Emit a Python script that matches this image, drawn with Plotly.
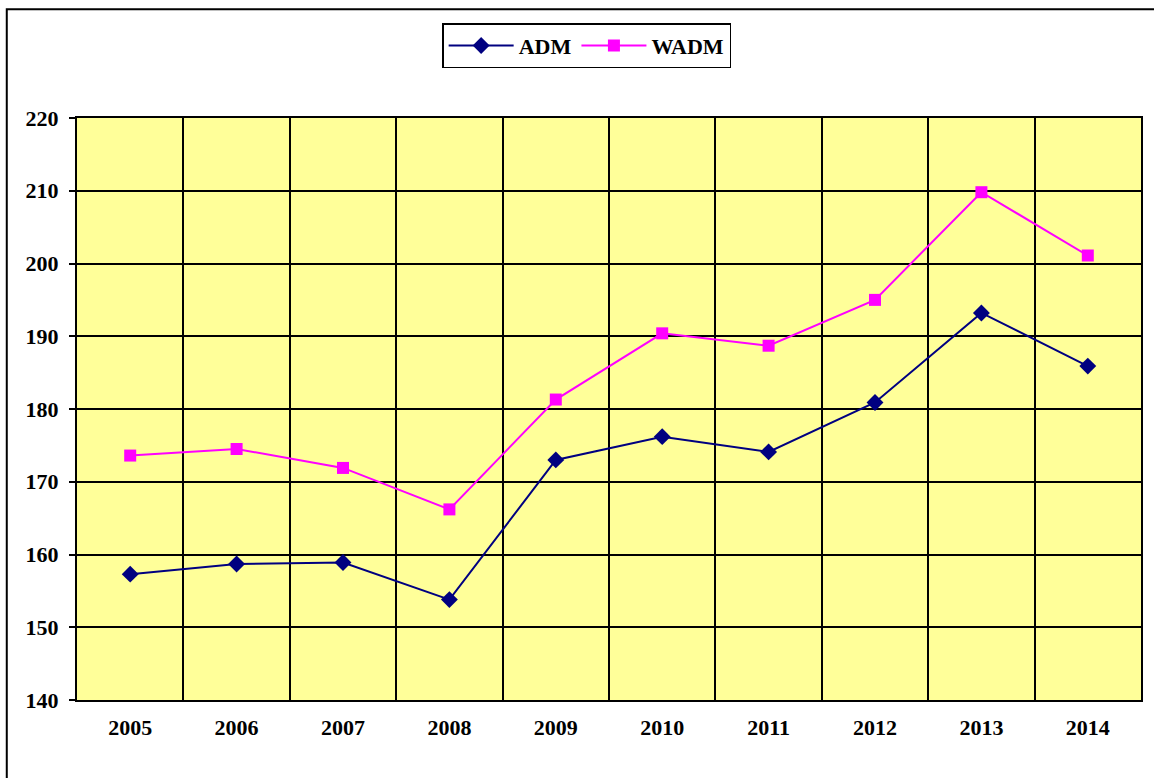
import plotly.graph_objects as go

years = ["2005", "2006", "2007", "2008", "2009", "2010", "2011", "2012", "2013", "2014"]
adm = [157.3, 158.7, 158.9, 153.8, 173.0, 176.2, 174.1, 180.9, 193.2, 185.9]
wadm = [173.6, 174.5, 171.9, 166.2, 181.3, 190.4, 188.7, 195.0, 209.8, 201.1]
y_ticks = [140, 150, 160, 170, 180, 190, 200, 210, 220]

FONT = "Liberation Serif"

fig = go.Figure()
fig.add_trace(go.Scatter(
    x=years, y=adm, name="ADM", mode="lines+markers",
    line=dict(color="#000080", width=2),
    marker=dict(symbol="diamond", size=13, color="#000080"),
))
fig.add_trace(go.Scatter(
    x=years, y=wadm, name="WADM", mode="lines+markers",
    line=dict(color="#FF00FF", width=2),
    marker=dict(symbol="square", size=12, color="#FF00FF"),
))

fig.update_layout(
    width=1154, height=778,
    margin=dict(l=77, r=11, t=118, b=78),
    paper_bgcolor="white",
    plot_bgcolor="#FFFF99",
    showlegend=True,
    legend=dict(
        orientation="h", x=0.479, xanchor="center", y=1.163, yanchor="top",
        bordercolor="black", borderwidth=1.5, bgcolor="white",
        font=dict(family=FONT, size=22, color="black", weight="bold"),
        itemwidth=65,
    ),
    xaxis=dict(
        type="category", tickson="boundaries", showgrid=True,
        gridcolor="black", gridwidth=2, ticks="", ticklen=0,
        showline=True, linecolor="black", linewidth=2, mirror=True,
        tickfont=dict(family=FONT, size=22, color="black", weight="bold"),
        ticklabelstandoff=7,
        range=[-0.5, 9.5],
    ),
    yaxis=dict(
        range=[140, 220], tickvals=y_ticks, showgrid=True,
        gridcolor="black", gridwidth=2, ticks="outside", ticklen=6,
        tickcolor="black", tickwidth=2, zeroline=False,
        showline=True, linecolor="black", linewidth=2, mirror=True,
        tickfont=dict(family=FONT, size=22, color="black", weight="bold"),
        ticklabelstandoff=6,
    ),
    shapes=[dict(
        type="path", xref="paper", yref="paper",
        path="M -0.066,-0.3 L -0.066,1.187 L 1.2,1.187",
        line=dict(color="black", width=2),
    )],
)

fig.write_html("out.html", config={"displayModeBar": False},
               post_script="document.body.style.margin='0';")
